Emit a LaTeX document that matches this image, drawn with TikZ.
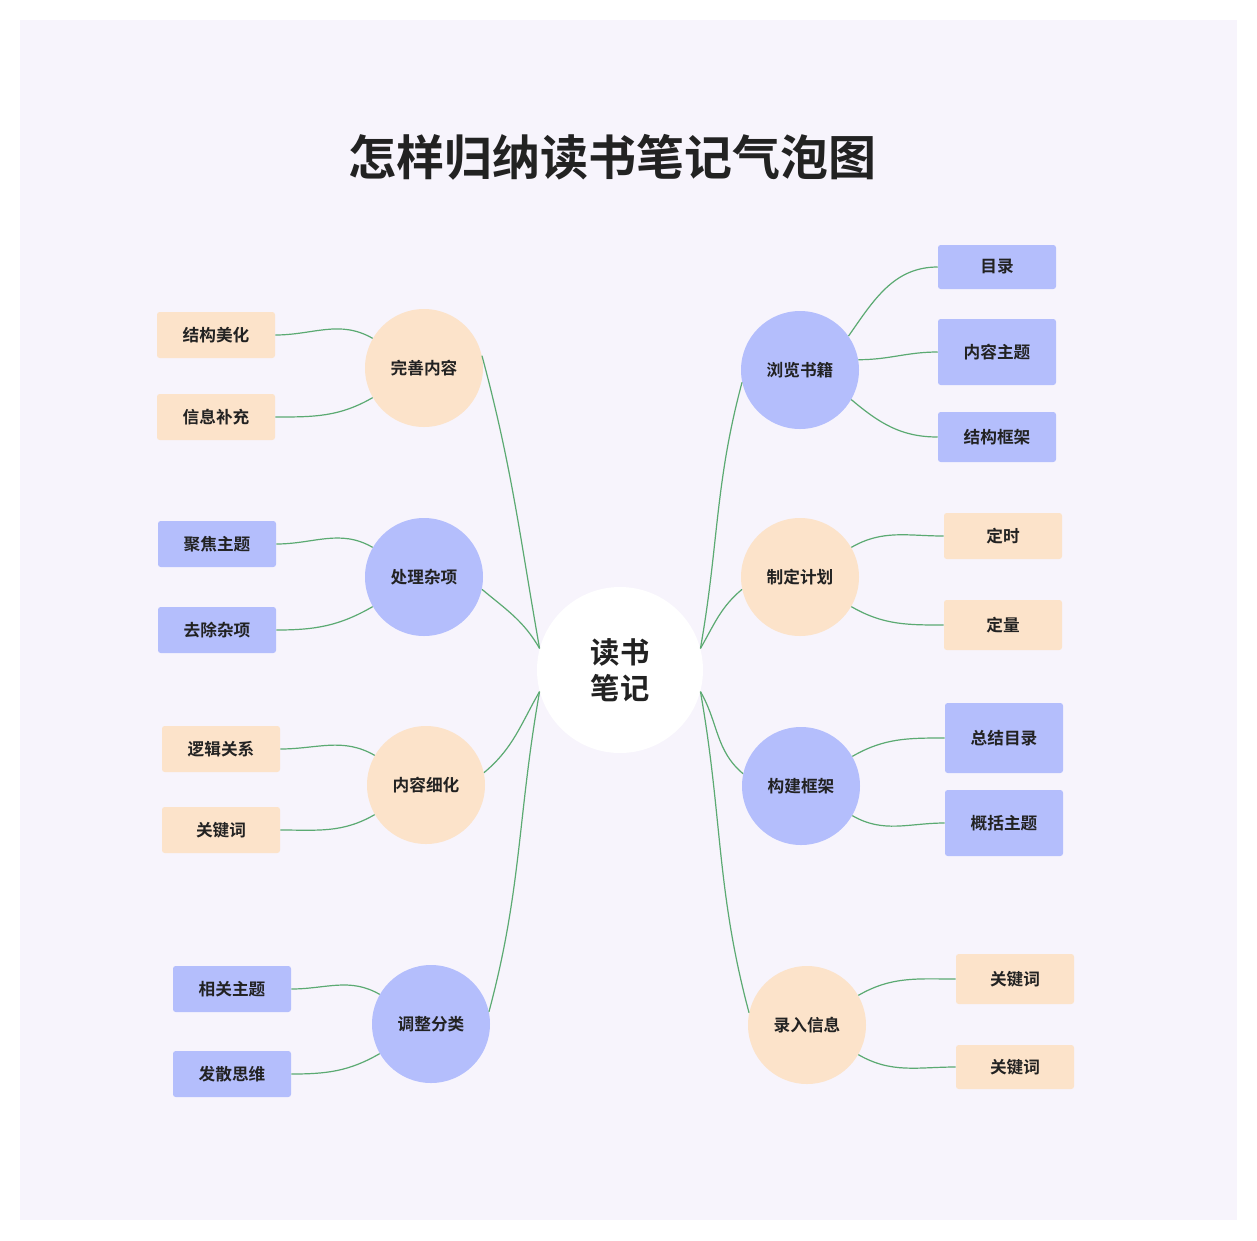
\documentclass[tikz,border=0pt]{standalone}
\usepackage{fontspec}
\setmainfont{Noto Sans CJK SC}[BoldFont={* Bold}]
\begin{document}
\begin{tikzpicture}[x=0.75pt,y=-0.75pt]
\definecolor{bg}{HTML}{F7F4FC}
\definecolor{peach}{HTML}{FCE3CA}
\definecolor{blu}{HTML}{B4BEFC}
\definecolor{ln}{HTML}{5BAA72}
\definecolor{tx}{HTML}{222222}
\tikzset{
 circ/.style={circle,minimum size=118\pgflinewidth*0+88.5pt,inner sep=0,font=\bfseries\fontsize{12.5}{14}\selectfont,text=tx},
 box/.style={rectangle,rounded corners=2pt,minimum width=88.5pt,minimum height=34.5pt,inner sep=0,font=\bfseries\fontsize{12.5}{14}\selectfont,text=tx},
 con/.style={draw=ln,line width=0.9pt}
}
\useasboundingbox (0,0) rectangle (1257,1240);
\fill[white] (0,0) rectangle (1257,1240);
\fill[bg] (20,20) rectangle (1237,1220);
\node[font=\bfseries\fontsize{36}{40}\selectfont,text=tx] (title) at (612,157) {怎样归纳读书笔记气泡图};
\node[circle,fill=white,minimum size=124.5pt,inner sep=0,align=center,font=\bfseries\fontsize{22}{27}\selectfont,text=tx] (c) at (620,670) {读书\\笔记};
\node[circ,fill=peach] (a) at (424,368) {完善内容};
\node[circ,fill=blu] (b) at (424,577) {处理杂项};
\node[circ,fill=peach] (d) at (426,785) {内容细化};
\node[circ,fill=blu] (e) at (431,1024) {调整分类};
\node[circ,fill=blu] (f) at (800,370) {浏览书籍};
\node[circ,fill=peach] (g) at (800,577) {制定计划};
\node[circ,fill=blu] (h) at (801,786) {构建框架};
\node[circ,fill=peach] (i) at (807,1025) {录入信息};
\node[box,fill=peach] (a1) at (216,335) {结构美化};
\node[box,fill=peach] (a2) at (216,417) {信息补充};
\node[box,fill=blu] (b1) at (217,544) {聚焦主题};
\node[box,fill=blu] (b2) at (217,630) {去除杂项};
\node[box,fill=peach] (d1) at (221,749) {逻辑关系};
\node[box,fill=peach] (d2) at (221,830) {关键词};
\node[box,fill=blu] (e1) at (232,989) {相关主题};
\node[box,fill=blu] (e2) at (232,1074) {发散思维};
\node[box,fill=blu,minimum height=33pt] (f1) at (997,267) {目录};
\node[box,fill=blu,minimum height=49.5pt] (f2) at (997,352) {内容主题};
\node[box,fill=blu,minimum height=37.5pt] (f3) at (997,437) {结构框架};
\node[box,fill=peach] (g1) at (1003,536) {定时};
\node[box,fill=peach,minimum height=37.5pt] (g2) at (1003,625) {定量};
\node[box,fill=blu,minimum height=52.5pt] (h1) at (1004,738) {总结目录};
\node[box,fill=blu,minimum height=49.5pt] (h2) at (1004,823) {概括主题};
\node[box,fill=peach,minimum height=37.5pt] (i1) at (1015,979) {关键词};
\node[box,fill=peach,minimum height=33pt] (i2) at (1015,1067) {关键词};
% center to main
\draw[con] (c.165) to[out=100,in=-75] (a.12);
\draw[con] (c.165) to[out=120,in=-40] (b.-12);
\draw[con] (c.195) to[out=-120,in=40] (d.12);
\draw[con] (c.195) to[out=-100,in=75] (e.12);
\draw[con] (c.15) to[out=80,in=-105] (f.192);
\draw[con] (c.15) to[out=60,in=-140] (g.192);
\draw[con] (c.-15) to[out=-60,in=140] (h.168);
\draw[con] (c.-15) to[out=-80,in=105] (i.168);
% boxes
\foreach \p/\q in {a1/a,b1/b,d1/d,e1/e}{\draw[con] (\p.east) to[out=0,in=150] (\q.150);}
\foreach \p/\q in {a2/a,b2/b,d2/d,e2/e}{\draw[con] (\p.east) to[out=0,in=-150] (\q.-150);}
\draw[con] (f.35) to[out=55,in=180] (f1.west);
\draw[con] (f.10) to[out=0,in=180] (f2.west);
\draw[con] (f.-30) to[out=-40,in=180] (f3.west);
\foreach \p/\q in {g1/g,h1/h,i1/i}{\draw[con] (\p.west) to[out=180,in=30] (\q.30);}
\foreach \p/\q in {g2/g,h2/h,i2/i}{\draw[con] (\p.west) to[out=180,in=-30] (\q.-30);}
\end{tikzpicture}
\end{document}
